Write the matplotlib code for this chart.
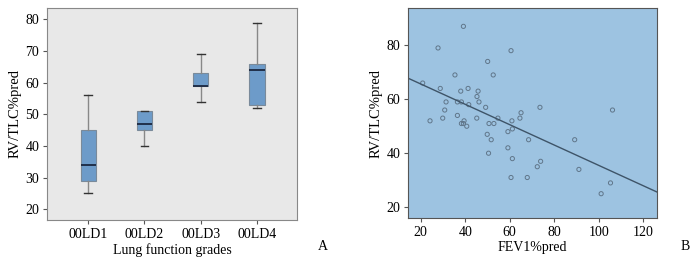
import matplotlib.pyplot as plt
import numpy as np

plt.rcParams['font.family'] = ['Liberation Serif', 'DejaVu Serif']

# Panel A: box plot summaries
grades = ['00LD1', '00LD2', '00LD3', '00LD4']
whislo = [25, 40, 54, 52]
q1 = [29, 45, 59, 53]
med = [34, 47, 59, 64]
q3 = [45, 51, 63, 66]
whishi = [56, 51, 69, 79]

# Panel B: scatter
fev1 = [20.9, 27.8, 28.8, 24.2, 31.4, 30.8, 29.9, 39.2, 35.4, 38.0,
        36.5, 38.3, 36.5, 38.3, 39.2, 39.5, 40.7, 41.3, 41.6, 45.8,
        45.3, 46.2, 45.2, 50.1, 49.2, 52.6, 54.7, 50.7, 52.9, 49.9,
        51.7, 50.5, 60.6, 59.2, 59.2, 61.2, 61.0, 61.2, 60.6, 64.6,
        65.1, 68.5, 67.9, 73.6, 73.9, 72.4, 89.2, 91.1, 101.1, 105.3,
        106.2]
rvtlc = [66, 79, 64, 52, 59, 56, 53, 87, 69, 63,
         59, 59, 54, 51, 51, 52, 50, 64, 58, 63,
         61, 59, 53, 74, 57, 69, 53, 51, 51, 47,
         45, 40, 78, 48, 42, 49, 52, 38, 31, 53,
         55, 45, 31, 57, 37, 35, 45, 34, 25, 29,
         56]
fit_intercept = 73.2
fit_slope = -0.377

fig = plt.figure(figsize=(6.99, 2.66), dpi=100)

# ---- A ----
axA = fig.add_axes([47/699, 46/266, 250/699, 212/266])
axA.set_facecolor('#e8e8e8')
stats = []
for i in range(len(grades)):
    stats.append(dict(whislo=whislo[i], q1=q1[i], med=med[i], q3=q3[i],
                      whishi=whishi[i], fliers=[], label=grades[i]))
axA.bxp(stats, positions=[1, 2, 3, 4], widths=0.27, patch_artist=True,
        showfliers=False,
        boxprops=dict(facecolor='#6d9bc9', edgecolor='#7a8a9a', linewidth=0.8),
        medianprops=dict(color='#1a2740', linewidth=1.3),
        whiskerprops=dict(color='#888888', linewidth=1.0),
        capprops=dict(color='#333333', linewidth=1.0))
axA.set_xlim(0.27, 4.71)
axA.set_ylim(16.6, 83.6)
axA.set_yticks([20, 30, 40, 50, 60, 70, 80])
axA.set_ylabel('RV/TLC%pred', fontsize=10.5, labelpad=3)
axA.set_xlabel('Lung function grades', fontsize=10, labelpad=2)
axA.tick_params(labelsize=10, length=3, pad=2.5, color='#555555')
for s in axA.spines.values():
    s.set_color('#888888')
fig.text(323/699, 1 - 246/266, 'A', fontsize=10, ha='center', va='center')

# ---- B ----
axB = fig.add_axes([408/699, 48/266, 249/699, 210/266])
axB.set_facecolor('#9dc3e1')
axB.scatter(fev1, rvtlc, s=9, facecolors='none', edgecolors='#60768a',
            linewidths=0.7)
xl = np.array([14.3, 126.2])
axB.plot(xl, fit_intercept + fit_slope * xl, color='#3e5468', linewidth=1.0)
axB.set_xlim(14.3, 126.2)
axB.set_ylim(16.0, 93.8)
axB.set_xticks([20, 40, 60, 80, 100, 120])
axB.set_yticks([20, 40, 60, 80])
axB.set_ylabel('RV/TLC%pred', fontsize=10.5, labelpad=3)
axB.set_xlabel('FEV1%pred', fontsize=10, labelpad=2)
axB.tick_params(labelsize=10, length=3, pad=2.5, color='#555555')
for s in axB.spines.values():
    s.set_color('#555555')
fig.text(685/699, 1 - 246/266, 'B', fontsize=10, ha='center', va='center')

fig.savefig('out.png', dpi=100)
